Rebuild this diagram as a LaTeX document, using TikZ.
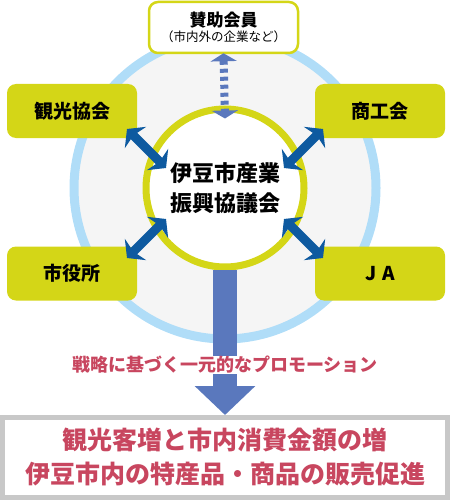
\documentclass[tikz,border=0pt]{standalone}
\usepackage{fontspec}
\setmainfont{Noto Sans CJK JP}
\usetikzlibrary{arrows.meta}

\definecolor{kiiro}{HTML}{D4D617}
\definecolor{mizu}{HTML}{B0DDF8}
\definecolor{hai}{HTML}{F5F5F5}
\definecolor{aoi}{HTML}{0E5AA0}
\definecolor{usuao}{HTML}{5A78BD}
\definecolor{beni}{HTML}{C8465F}
\definecolor{waku}{HTML}{C8C8C8}

\begin{document}
\begin{tikzpicture}[x=1pt,y=-1pt,
	ybox/.style={rectangle, rounded corners=9pt, fill=kiiro, minimum width=130pt, minimum height=54pt, font=\fontsize{19}{22}\selectfont\bfseries},
	nijiya/.style={line width=9pt, color=aoi, {Stealth[length=12pt,width=30pt,inset=3pt]}-{Stealth[length=12pt,width=30pt,inset=3pt]}}]

		\useasboundingbox (0,0) rectangle (450,500);

		\coordinate (O) at (225,188);

		\draw [line width=9pt, draw=mizu, fill=hai] (O) circle [radius=151pt];

		\node [circle, draw=kiiro, line width=7pt, fill=white, minimum size=158pt, align=center, font=\fontsize{22}{30}\selectfont\bfseries] (kyo) at (O) {伊豆市産業\\振興協議会};

		\node [rectangle, draw=kiiro, line width=2.5pt, fill=white, rounded corners=9pt, minimum width=149pt, minimum height=51pt, align=center, inner sep=0pt] (sanjo) at (223.5,27.5) {\fontsize{17}{19}\selectfont\bfseries 賛助会員\\[1pt]{\fontsize{12.5}{14}\selectfont （市内外の企業など）}};

		\node [ybox] (kanko) at (72,111) {観光協会};
		\node [ybox] (shoko) at (380,111) {商工会};
		\node [ybox] (shiyaku) at (72,273.5) {市役所};
		\node [ybox] (ja) at (380,273.5) {J\,\,A};

		\node [rectangle, draw=waku, line width=5pt, fill=white, minimum width=445pt, minimum height=80pt, align=center, text=beni, font=\fontsize{25}{34}\selectfont\bfseries] (seika) at (225,457.5) {観光客増と市内消費金額の増\\伊豆市内の特産品・商品の販売促進};

		\draw [line width=8pt, usuao, dash pattern=on 4pt off 4pt, {Triangle[length=8pt,width=26pt]}-{Triangle[length=8pt,width=26pt]}] ([yshift=1pt]sanjo.south) -- ([yshift=-13pt]kyo.north);

		\draw [line width=24pt, usuao, -{Triangle[length=29pt,width=59pt]}] ([yshift=1pt]kyo.south) -- (seika.north);

		\node [fill=white, inner sep=0.5pt, text=beni, font=\fontsize{18}{20}\selectfont\bfseries] (senryaku) at (225,365) {戦略に基づく一元的なプロモーション};

		\coordinate (kA) at (127,129);
		\coordinate (kB) at (166,168);
		\coordinate (sA) at (323,129);
		\coordinate (sB) at (284,168);
		\coordinate (yA) at (127,258);
		\coordinate (yB) at (166,219);
		\coordinate (jA) at (323,258);
		\coordinate (jB) at (284,219);

		\draw [nijiya] (kA) -- (kB);
		\draw [nijiya] (sA) -- (sB);
		\draw [nijiya] (yA) -- (yB);
		\draw [nijiya] (jA) -- (jB);

\end{tikzpicture}
\end{document}
